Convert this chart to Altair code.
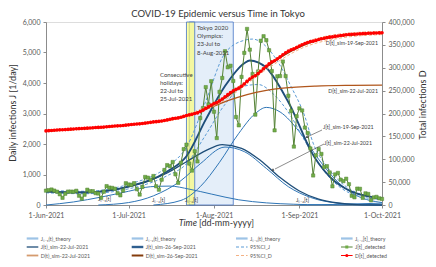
import altair as alt
import pandas as pd

START = "2021-06-01"

# ---- detected data (daily, 1-Jun-2021 .. 1-Oct-2021) ----
J_DETECTED = [
    471, 487, 508, 472, 436, 351, 235, 369, 440, 439, 435, 467, 304, 209, 337, 501, 452, 453, 388, 376,
    236, 435, 619, 570, 562, 534, 386, 317, 476, 714,
    673, 660, 716, 518, 342, 593, 920, 896, 822, 950, 614, 502, 830, 1149, 1308, 1271, 1410, 1008, 727, 1387,
    1832, 1979, 1359, 1128, 1763, 1429, 2848, 3177, 3865, 3300, 4058,
    3058, 2195, 3709, 4166, 5042, 4515, 4566, 4066, 2884, 2612, 4200, 4989, 5773, 5094, 4295, 2962, 4377, 5386,
    5534, 5405, 5074, 4392, 2447, 4220, 4228, 4704, 4227, 3581, 3081, 1915, 2909,
    3168, 3099, 2539, 2362, 1853, 968, 1629, 1834, 1675, 1242, 1273, 1067, 611, 1004, 1052, 831, 782, 862, 681,
    302, 253, 537, 531, 235, 382, 362, 154, 248, 267, 218,
    200,
]
D_DETECTED = [
    162000, 162487, 162995, 163467, 163903, 164254, 164489, 164858, 165298, 165737, 166172, 166639, 166943,
    167152, 167489, 167990, 168442, 168895, 169283, 169659, 169895, 170330, 170949, 171519, 172081, 172615,
    173001, 173318, 173794, 174508,
    175181, 175841, 176557, 177075, 177417, 178010, 178930, 179826, 180648, 181598, 182212, 182714, 183544,
    184693, 186001, 187272, 188682, 189690, 190417, 191804, 193636, 195615, 196974, 198102, 199865, 201294,
    204142, 207319, 211184, 214484, 218542,
    221600, 223795, 227504, 231670, 236712, 241227, 245793, 249859, 252743, 255355, 259555, 264544, 270317,
    275411, 279706, 282668, 287045, 292431, 297965, 303370, 308444, 312836, 315283, 319503, 323731, 328435,
    332662, 336243, 339324, 341239, 344148,
    347316, 350415, 352954, 355316, 357169, 358137, 359766, 361600, 363275, 364517, 365790, 366857, 367468,
    368472, 369524, 370355, 371137, 371999, 372680, 372982, 373235, 373772, 374303, 374538, 374920, 375282,
    375436, 375684, 375951, 376169,
    376369,
]

# ---- model curves (date, value) ----
J_SIM26_D = ["2021-06-01", "2021-06-15", "2021-07-01", "2021-07-15", "2021-07-22", "2021-07-29", "2021-08-05",
             "2021-08-12", "2021-08-14", "2021-08-20", "2021-08-26", "2021-08-29", "2021-09-01", "2021-09-05",
             "2021-09-12", "2021-09-20", "2021-10-01"]
J_SIM26_V = [440, 410, 600, 1100, 1600, 2800, 3900, 4650, 4740, 4500, 3700, 3200, 2600, 1800, 930, 440, 220]

CIJ_UP_D = ["2021-06-01", "2021-06-15", "2021-07-01", "2021-07-15", "2021-07-22", "2021-07-29", "2021-08-05",
            "2021-08-12", "2021-08-15", "2021-08-23", "2021-08-29", "2021-09-03", "2021-09-06", "2021-09-11",
            "2021-09-18", "2021-09-28", "2021-10-01"]
CIJ_UP_V = [480, 450, 680, 1250, 1900, 3400, 4980, 5400, 5440, 4860, 3880, 2900, 2030, 1260, 600, 260, 230]
CIJ_LO_D = ["2021-06-01", "2021-06-15", "2021-07-01", "2021-07-15", "2021-07-22", "2021-07-29", "2021-08-05",
            "2021-08-12", "2021-08-17", "2021-08-23", "2021-08-29", "2021-09-03", "2021-09-06", "2021-09-11",
            "2021-09-18", "2021-09-28", "2021-10-01"]
CIJ_LO_V = [400, 370, 530, 960, 1350, 2300, 3300, 3900, 3950, 3600, 2900, 2100, 1650, 1000, 450, 200, 180]

J_SIM22_D = ["2021-06-01", "2021-06-15", "2021-07-01", "2021-07-15", "2021-07-22", "2021-07-29", "2021-08-04",
             "2021-08-11", "2021-08-18", "2021-08-25", "2021-09-01", "2021-09-08", "2021-09-15", "2021-09-22",
             "2021-10-01"]
J_SIM22_V = [440, 420, 600, 1050, 1420, 1780, 1980, 1860, 1450, 900, 460, 190, 65, 15, 0]

JS1_D = ["2021-06-01", "2021-06-11", "2021-06-21", "2021-07-01", "2021-07-09", "2021-07-16", "2021-07-23",
         "2021-07-31", "2021-08-10", "2021-08-20", "2021-08-30", "2021-09-09", "2021-10-01"]
JS1_V = [0, 100, 260, 450, 600, 620, 520, 360, 170, 70, 25, 5, 0]
JS2_D = ["2021-06-20", "2021-07-01", "2021-07-10", "2021-07-20", "2021-07-27", "2021-08-05", "2021-08-12",
         "2021-08-20", "2021-08-28", "2021-09-05", "2021-09-15", "2021-09-25", "2021-10-01"]
JS2_V = [0, 80, 300, 800, 1350, 1900, 1750, 1200, 600, 250, 60, 10, 0]
JS3_D = ["2021-07-10", "2021-07-20", "2021-07-27", "2021-08-03", "2021-08-10", "2021-08-16", "2021-08-20",
         "2021-08-25", "2021-09-01", "2021-09-08", "2021-09-15", "2021-09-22", "2021-10-01"]
JS3_V = [0, 150, 600, 1400, 2350, 3000, 3200, 3050, 2400, 1500, 750, 300, 80]
JS4_D = ["2021-09-01", "2021-09-15", "2021-10-01"]
JS4_V = [0, 20, 60]

D_SIM22_D = ["2021-06-01", "2021-07-01", "2021-07-22", "2021-07-27", "2021-08-01", "2021-08-06", "2021-08-13",
             "2021-08-20", "2021-08-26", "2021-09-07", "2021-09-20", "2021-10-01"]
D_SIM22_V = [162000, 175200, 195600, 205000, 216000, 228000, 241500, 250500, 255500, 260000, 261500, 262000]
D_SIM26_D = ["2021-06-01", "2021-06-15", "2021-07-01", "2021-07-15", "2021-07-22", "2021-07-29", "2021-08-05",
             "2021-08-12", "2021-08-19", "2021-08-26", "2021-09-02", "2021-09-09", "2021-09-16", "2021-09-23",
             "2021-10-01"]
D_SIM26_V = [162000, 167400, 175000, 185500, 195000, 210000, 234000, 265000, 297000, 326000, 348000, 362000,
             369500, 373500, 376000]
CID_D = ["2021-06-01", "2021-07-01", "2021-07-22", "2021-08-05", "2021-08-19", "2021-09-02", "2021-09-16",
         "2021-10-01"]
CID_UP_V = [163000, 176500, 197500, 238000, 302000, 353000, 374000, 379500]
CID_LO_V = [161000, 173500, 192500, 230000, 292000, 343000, 365000, 372500]

X_TICKS = ["1-Jun-2021", "1-Jul-2021", "1-Aug-2021", "1-Sep-2021", "1-Oct-2021"]
LEGEND_LABELS = [
    "Jₛ₋₁(t)_theory", "Jₛ₋₂(t)_theory", "Jₛ₋₃(t)_theory", "Jₛ₋₄[t]_theory",
    "J(t)_sim-22-Jul-2021", "J(t)_sim-26-Sep-2021", "95%CI_J", "J[t]_detected",
    "D(t)_sim-22-Jul-2021", "D(t)_sim-26-Sep-2021", "95%CI_D", "D[t]_detected",
]

# ---- styling ----
W, H = 336, 183
FONT = "Lato"
GREY = "#595959"
AXC = "#8c8c8c"
THEORY = "#2E75B6"
NAVY = "#1F4E79"
CI_BLUE = "#5B9BD5"
GREEN_L = "#548235"
GREEN_M = "#70AD47"
BROWN22 = "#B0561C"
BROWN26 = "#843C0C"
ORANGE = "#F4B183"
RED = "#FF0000"

dates = pd.date_range(START, periods=len(J_DETECTED), freq="D").strftime("%Y-%m-%d").tolist()
det = pd.DataFrame({"date": dates, "J": J_DETECTED, "D": D_DETECTED})

XS = alt.Scale(type="utc", nice=False,
               domain=[alt.DateTime(year=2021, month=6, date=1, utc=True),
                       alt.DateTime(year=2021, month=10, date=1, utc=True)])
JS = alt.Scale(domain=[0, 6000], nice=False)
DS = alt.Scale(domain=[0, 400000], nice=False)

X_AXIS = alt.Axis(values=[alt.DateTime(year=2021, month=m, date=1, utc=True) for m in (6, 7, 8, 9, 10)],
                  labelExpr="utcFormat(datum.value, '%-d-%b-%Y')", title=None, labelFontSize=7,
                  labelColor=GREY, labelFont=FONT, tickSize=3, tickColor=AXC, domainColor=AXC, grid=False,
                  labelPadding=3, labelFlush=False)
JY_AXIS = alt.Axis(values=list(range(0, 6001, 1000)), labelExpr="format(datum.value, ',')", title=None,
                   labelFontSize=7, labelColor=GREY, labelFont=FONT, tickSize=3, tickColor=AXC,
                   domainColor=AXC, grid=False, labelPadding=3, orient="left")
DY_AXIS = alt.Axis(values=list(range(0, 400001, 50000)), labelExpr="format(datum.value, ',')", title=None,
                   orient="right", labelFontSize=7, labelColor=GREY, labelFont=FONT, tickSize=3,
                   tickColor=AXC, domainColor=AXC, grid=False, labelPadding=3)


def xenc(field="date:T"):
    return alt.X(field, scale=XS, axis=X_AXIS)


def yenc(field, scale):
    return alt.Y(field, scale=scale, axis=JY_AXIS if scale is JS else DY_AXIS)


def curve(d, v, scale, color, width=1.0, dash=None):
    df = pd.DataFrame({"date": d, "v": v})
    kw = dict(color=color, strokeWidth=width, interpolate="monotone")
    if dash:
        kw["strokeDash"] = dash
    return alt.Chart(df).mark_line(**kw).encode(x=xenc(), y=yenc("v:Q", scale))


def txt(x, y, s, size=6.0, align="left", color="#404040", style="normal", angle=0, baseline="middle",
        line_height=None):
    kw = dict(align=align, baseline=baseline, fontSize=size, color=color, fontStyle=style, font=FONT,
              angle=angle, text=s)
    if line_height:
        kw["lineHeight"] = line_height
    return alt.Chart(pd.DataFrame({"a": [0]})).mark_text(**kw).encode(x=alt.value(x), y=alt.value(y))


def rule(x1, y1, x2, y2, color, width=1.0, dash=None):
    kw = dict(color=color, strokeWidth=width)
    if dash:
        kw["strokeDash"] = dash
    return alt.Chart(pd.DataFrame({"a": [0]})).mark_rule(**kw).encode(
        x=alt.value(x1), y=alt.value(y1), x2=alt.value(x2), y2=alt.value(y2))


def marker(x, y, shape, color, size, angle=0):
    return alt.Chart(pd.DataFrame({"a": [0]})).mark_point(
        shape=shape, filled=True, color=color, size=size, opacity=1, angle=angle
    ).encode(x=alt.value(x), y=alt.value(y))


# ---- event bands ----
olym = alt.Chart(pd.DataFrame({"s": ["2021-07-23"], "e": ["2021-08-08"]})).mark_rect(
    fill="#E4EEF9", stroke="#4472C4", strokeWidth=0.8
).encode(x=alt.X("s:T", scale=XS, axis=X_AXIS), x2="e:T")
hol = alt.Chart(pd.DataFrame({"s": ["2021-07-22"], "e": ["2021-07-25"]})).mark_rect(
    fill="#FFFF66", fillOpacity=0.6, stroke="#4472C4", strokeWidth=0.8
).encode(x=alt.X("s:T", scale=XS, axis=X_AXIS), x2="e:T")

# ---- J group (left axis) ----
green_line = alt.Chart(det).mark_line(color=GREEN_L, strokeWidth=1).encode(x=xenc(), y=yenc("J:Q", JS))
green_pts = alt.Chart(det).mark_square(color=GREEN_M, size=11, opacity=1, stroke=GREEN_L,
                                       strokeWidth=0.5).encode(x=xenc(), y=yenc("J:Q", JS))

j_group = alt.layer(
    curve(JS1_D, JS1_V, JS, THEORY, 1.0),
    curve(JS2_D, JS2_V, JS, THEORY, 1.0),
    curve(JS3_D, JS3_V, JS, THEORY, 1.0),
    curve(JS4_D, JS4_V, JS, THEORY, 1.0),
    curve(CIJ_UP_D, CIJ_UP_V, JS, CI_BLUE, 1.0, dash=[3, 2]),
    curve(CIJ_LO_D, CIJ_LO_V, JS, CI_BLUE, 1.0, dash=[3, 2]),
    curve(J_SIM22_D, J_SIM22_V, JS, NAVY, 1.3),
    curve(J_SIM26_D, J_SIM26_V, JS, NAVY, 1.9),
    green_line,
    green_pts,
)

# ---- D group (right axis) ----
red_line = alt.Chart(det).mark_line(color=RED, strokeWidth=1.2).encode(x=xenc(), y=yenc("D:Q", DS))
red_pts = alt.Chart(det).mark_circle(color=RED, size=13, opacity=1).encode(x=xenc(), y=yenc("D:Q", DS))

d_group = alt.layer(
    curve(D_SIM22_D, D_SIM22_V, DS, BROWN22, 1.3),
    curve(D_SIM26_D, D_SIM26_V, DS, BROWN26, 1.5),
    curve(CID_D, CID_UP_V, DS, ORANGE, 1.0, dash=[3, 2]),
    curve(CID_D, CID_LO_V, DS, ORANGE, 1.0, dash=[3, 2]),
    red_line,
    red_pts,
)

# ---- annotations (pixel positions relative to plot area) ----
ann = [
    txt(172, -8.3, "COVID-19 Epidemic versus Time in Tokyo", size=9.5, align="center", color="#333333"),
    txt(-33.5, 91, "Daily infections J [1/day]", size=9, align="center", color="#333333", angle=270),
    txt(376.5, 83, "Total infections D", size=9, align="center", color="#333333", angle=270),
    txt(151, 201, "Time", size=9, align="right", color="#333333", style="italic"),
    txt(153, 201, "[dd-mm-yyyy]", size=9, align="left", color="#333333"),
    txt(114, 50, ["Consecutive", "holidays:", "22-Jul to", "25-Jul-2021"], size=6, baseline="top",
        line_height=8),
    txt(151, 3, ["Tokyo 2020", "Olympics:", "23-Jul to", "8-Aug-2021"], size=6, baseline="top",
        line_height=8.2),
    txt(332, 21, "D[t]_sim-19-Sep-2021", size=5.3, align="right"),
    txt(332, 69, "D[t]_sim-22-Jul-2021", size=5.3, align="right"),
    txt(277, 105, "J[t]_sim-19-Sep-2021", size=5.3),
    txt(278, 121, "J[t]_sim-22-Jul-2021", size=5.3),
    rule(276, 108, 262, 114.5, "#404040", 0.6),
    marker(261, 115, "triangle", "#404040", 8, 245),
    rule(278, 122, 229, 147, "#404040", 0.6),
    marker(227, 148, "triangle", "#404040", 8, 241),
    txt(52, 177, "Jₛ₋₁[t]", size=5.5),
    txt(106, 178, "Jₛ₋₂[t]", size=5.5),
    txt(139, 178, "Jₛ₋₃[t]", size=5.5),
    txt(250, 178, "Jₛ₋₄[t]", size=5.5),
]

# ---- legend (manual, 3 rows x 4 columns below the plot) ----
COL_X = [-19.3, 85.7, 190.0, 295.0]
ROW_Y = [216.5, 225.0, 233.5]
SW = [
    (2.2, None, None, "#9DC3E6"), (2.2, None, None, "#9DC3E6"),
    (2.2, None, None, "#9DC3E6"), (2.2, None, None, "#9DC3E6"),
    (1.3, None, None, NAVY), (2.4, None, None, "#2F5F8F"),
    (1.0, [3, 2], None, CI_BLUE), (1.0, None, "square", GREEN_L),
    (1.8, None, None, "#D59B6E"), (2.0, None, None, BROWN26),
    (1.0, [3, 2], None, ORANGE), (1.0, None, "circle", RED),
]
leg = []
for i, lab in enumerate(LEGEND_LABELS):
    r, c = divmod(i, 4)
    x0, y0 = COL_X[c], ROW_Y[r]
    w, dash, shp, col = SW[i]
    leg.append(rule(x0, y0, x0 + 11.6, y0, col, w, dash))
    if shp == "square":
        leg.append(marker(x0 + 5.8, y0, "square", GREEN_M, 9))
    elif shp == "circle":
        leg.append(marker(x0 + 5.8, y0, "circle", RED, 10))
    leg.append(txt(x0 + 14, y0, lab, size=5.3, color=GREY))

chart = alt.layer(olym, hol, j_group, d_group, *ann, *leg).resolve_scale(y="independent").properties(
    width=W, height=H,
    padding={"left": 38, "top": 14, "right": 46, "bottom": 54},
    autosize=alt.AutoSizeParams(type="none"),
).configure_view(stroke=AXC, strokeWidth=0.8).configure(font=FONT)

chart.save("out.html", embed_options={"renderer": "svg", "actions": False})
